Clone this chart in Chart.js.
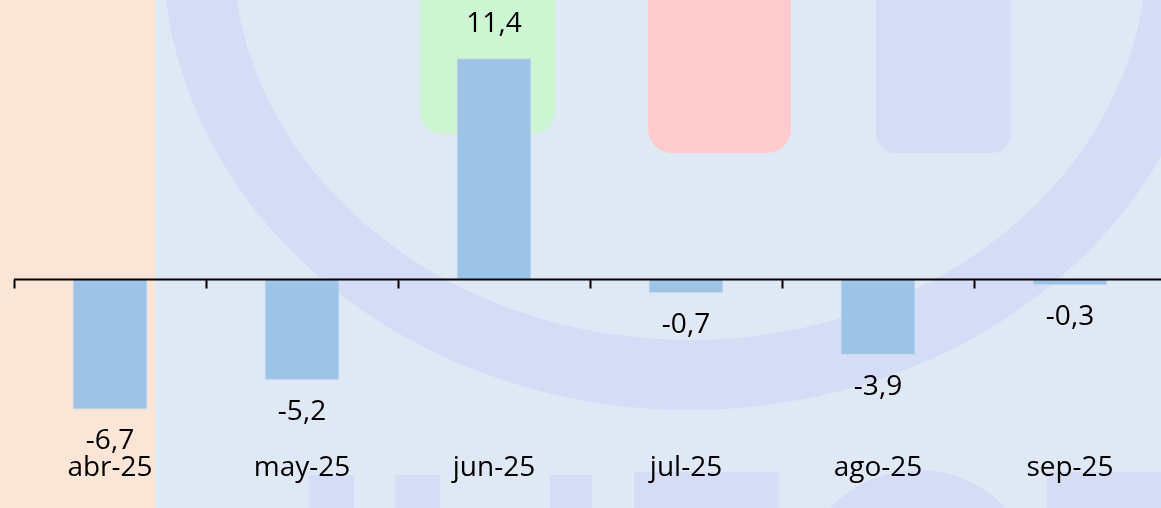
<!DOCTYPE html>
<html>
<head>
<meta charset="utf-8">
<script src="https://cdn.jsdelivr.net/npm/chart.js@4.4.1/dist/chart.umd.min.js"></script>
<style>
  html, body { margin: 0; padding: 0; overflow: hidden; background: #dfe9f5; }
  #wrap { width: 1166px; height: 508px; }
</style>
</head>
<body>
<div id="wrap"><canvas id="chart" width="1166" height="508"></canvas></div>
<script>
const meses = ["abr-25", "may-25", "jun-25", "jul-25", "ago-25", "sep-25"];
const variacion = [-6.7, -5.2, 11.4, -0.7, -3.9, -0.3];
const yMin = -8.4;
const yMax = 14.4;

const fuente = "'Open Sans', 'Noto Sans', sans-serif";
const fmt = (v) => v.toFixed(1).replace(".", ",");

// fondo con la marca de agua
const fondo = {
  id: "fondo",
  beforeDraw(chart) {
    const ctx = chart.ctx;
    ctx.save();
    ctx.fillStyle = "#dfe9f5";
    ctx.fillRect(0, 0, chart.width, chart.height);
    ctx.fillStyle = "#fbe5d7";
    ctx.fillRect(0, 0, 155, chart.height);

    ctx.strokeStyle = "#d5dcf6";
    ctx.lineWidth = 70;
    ctx.beginPath();
    ctx.ellipse(690, -50, 492, 425, 0, 0, Math.PI * 2);
    ctx.stroke();

    const caja = (x, y, w, h, r, c) => {
      ctx.fillStyle = c;
      ctx.beginPath();
      ctx.roundRect(x, y, w, h, r);
      ctx.fill();
    };
    caja(420, -30, 135, 164, 22, "#cdf5d1");
    caja(648, -30, 143, 183, 24, "#ffcccd");
    caja(876, -30, 135, 183, 20, "#d5dcf6");
    caja(309, 475, 45, 40, 0, "#d5dcf6");
    caja(395, 475, 45, 40, 0, "#d5dcf6");
    caja(550, 475, 42, 40, 0, "#d5dcf6");
    caja(634, 472, 145, 40, 0, "#d5dcf6");
    caja(1047, 472, 130, 40, 0, "#d5dcf6");
    ctx.lineWidth = 50;
    ctx.strokeStyle = "#d5dcf6";
    ctx.beginPath();
    ctx.arc(918, 590, 95, Math.PI * 1.1, Math.PI * 1.9);
    ctx.stroke();
    ctx.restore();
  },
};

// linea del cero con marcas entre categorias y etiquetas de valor
const ejeCero = {
  id: "ejeCero",
  afterDatasetsDraw(chart) {
    const ctx = chart.ctx;
    const x = chart.scales.x;
    const y0 = Math.round(chart.scales.y.getPixelForValue(0)) + 0.5;
    ctx.save();
    ctx.strokeStyle = "#000";
    ctx.lineWidth = 2;
    ctx.beginPath();
    ctx.moveTo(x.left, y0);
    ctx.lineTo(x.right + 10, y0);
    const paso = (x.right - x.left) / meses.length;
    for (let i = 0; i <= meses.length; i++) {
      const px = Math.round(x.left + paso * i) + 0.5;
      ctx.moveTo(px, y0);
      ctx.lineTo(px, y0 + 9);
    }
    ctx.stroke();

    ctx.fillStyle = "#000";
    ctx.font = "28px " + fuente;
    ctx.textAlign = "center";
    ctx.textBaseline = "middle";
    chart.getDatasetMeta(0).data.forEach((bar, i) => {
      const v = variacion[i];
      const off = v < 0 ? 32 : -34;
      ctx.fillText(fmt(v), bar.x, bar.y + off);
    });
    ctx.restore();
  },
};

new Chart(document.getElementById("chart"), {
  type: "bar",
  data: {
    labels: meses,
    datasets: [
      {
        data: variacion,
        backgroundColor: "#9dc3e6",
        borderColor: "#c9d9ee",
        borderWidth: 1,
        barPercentage: 0.39,
        categoryPercentage: 1,
      },
    ],
  },
  options: {
    responsive: false,
    animation: false,
    layout: { padding: { left: 14, right: 0, top: 0, bottom: 14 } },
    plugins: { legend: { display: false }, tooltip: { enabled: false } },
    scales: {
      x: {
        grid: { display: false, drawTicks: false },
        border: { display: false },
        ticks: {
          color: "#000",
          padding: 9,
          maxRotation: 0,
          font: { family: fuente, size: 28 },
        },
      },
      y: {
        display: false,
        min: yMin,
        max: yMax,
      },
    },
  },
  plugins: [fondo, ejeCero],
});
</script>
</body>
</html>
